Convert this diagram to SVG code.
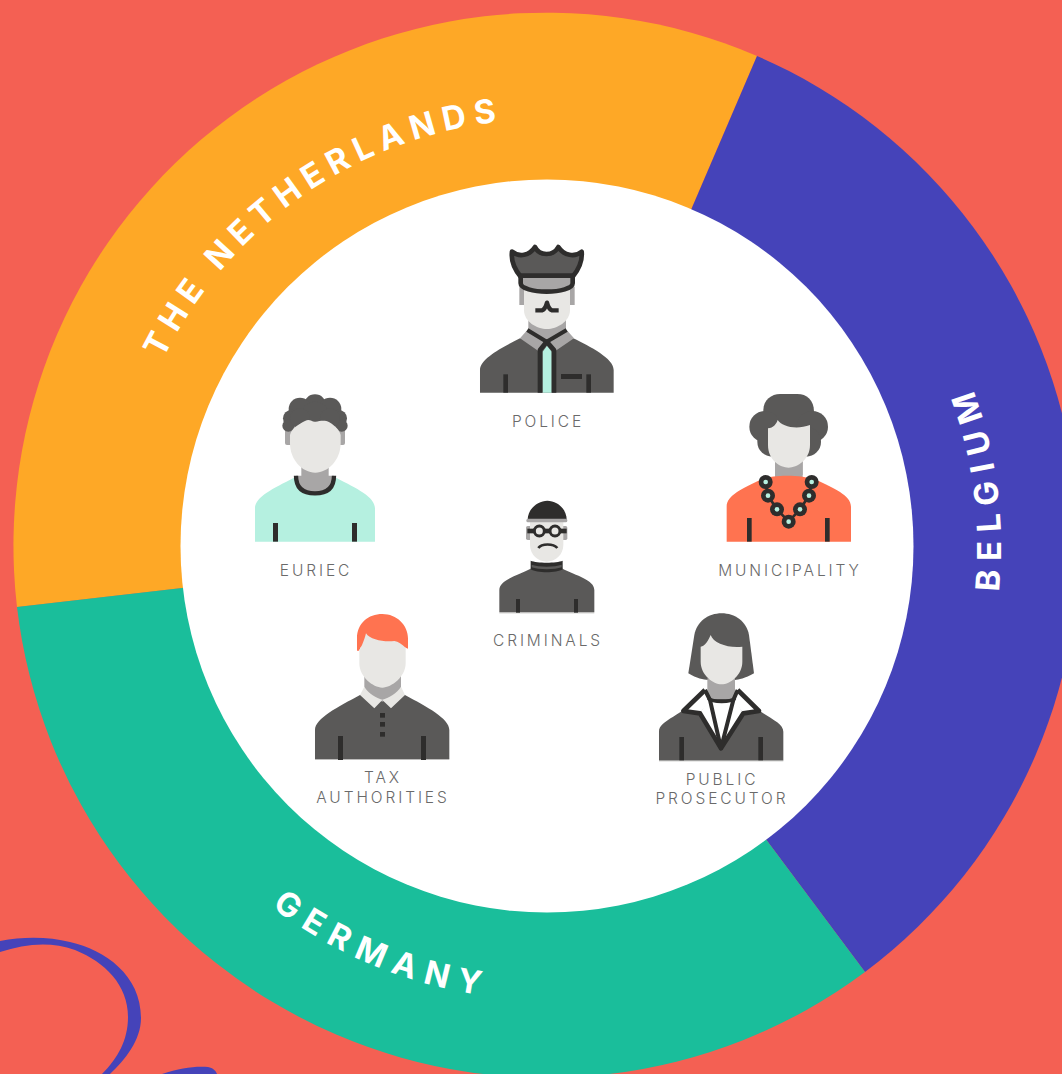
<svg xmlns="http://www.w3.org/2000/svg" width="1062" height="1074" viewBox="0 0 1062 1074">
<style>
.dk{fill:#5a5958}.gy{fill:#a8a6a6}.fc{fill:#e8e7e4}.ln{fill:#2e2d2c}.st{fill:none;stroke:#2e2d2c;stroke-linejoin:round}
.lb{font-family:Inter,"Liberation Sans",sans-serif;font-weight:300;font-size:15.5px;letter-spacing:2.9px;fill:#6a6a6a;text-anchor:middle}
.rg{font-family:Inter,"Liberation Sans",sans-serif;font-weight:700;font-size:33px;fill:#fff;text-anchor:middle}
.sep{fill:#bdbcbb}
</style>
<defs>
<path id="pN" d="M120 546A427 427 0 0 1 974 546"/>
<path id="pG" d="M93 546A454 454 0 0 0 1001 546"/>
<path id="pB" d="M547 1000A454 454 0 0 0 547 92"/>
</defs>
<rect width="1062" height="1074" fill="#f46053"/>
<g id="decor" fill="#4543b9">
<path d="M0 941C25 936 50 937 70 942C105 950 141 975 141 1018C141 1040 125 1060 110 1074L102 1074C118 1058 128 1040 128 1017C128 985 105 962 75 950C50 941 25 944 0 952Z"/>
<path d="M162 1074C180 1068 195 1066 208 1067C213 1068 216 1071 217 1074Z"/>
</g>
<g id="ring">
<path id="seg-netherlands" fill="#fea826" d="M757 56A533 533 0 0 0 17 607L547 546Z"/>
<path id="seg-belgium" fill="#4543b9" d="M757 56A533 533 0 0 1 865 972L547 546Z"/>
<path id="seg-germany" fill="#1abe9b" d="M865 972A533 533 0 0 1 17 607L547 546Z"/>
<circle cx="547" cy="546" r="366.5" fill="#fff"/>
<text class="rg" letter-spacing="7.5"><textPath href="#pN" startOffset="30.6%">THE NETHERLANDS</textPath></text>
<text class="rg" letter-spacing="9.5"><textPath href="#pG" startOffset="37.6%">GERMANY</textPath></text>
<text class="rg" letter-spacing="9.5"><textPath href="#pB" startOffset="54.3%">BELGIUM</textPath></text>
</g>

<g id="police">
<g transform="translate(470 235) scale(.33333)">
<rect class="gy" x="148" y="155" width="14" height="55"/><rect class="gy" x="300" y="155" width="14" height="55"/>
<path class="dk" d="M30 473V405C30 370 100 335 150 310H310C360 335 431 370 431 405V473Z"/>
<path class="gy" d="M175 240H288V285L231 320L175 285Z"/>
<path class="fc" d="M162 165H300V225C300 260 260 282 231 282C200 282 162 260 162 225Z"/>
<path class="gy" d="M172 285L150 310L205 348L230 320L256 348L312 310L290 285L230 318Z"/>
<path d="M218 473V350L231 332L245 350V473Z" fill="#b5f0e0"/>
<path class="st" stroke-width="14" d="M210 473V345L230 320L252 345V473"/>
<path class="st" stroke-width="12" d="M172 285L230 320L290 285"/>
<path class="st" stroke-width="13" d="M196 226H216C224 224 228 214 231 203C234 214 238 224 246 226H266"/>
<path class="st" style="fill:#5a5958" stroke-width="14" d="M126 50C148 68 178 62 195 36C208 64 250 64 265 36C282 62 314 68 335 50C338 80 322 108 308 125H152C138 108 122 80 126 50Z"/>
<path class="st" style="fill:#a8a6a6" stroke-width="14" d="M152 122H308V145C308 160 270 170 230 170C190 170 152 160 152 145Z"/>
<rect class="ln" x="100" y="418" width="14" height="55"/><rect class="ln" x="349" y="418" width="14" height="55"/><rect class="ln" x="273" y="417" width="63" height="15"/>
</g>
<text class="lb" x="548" y="427">POLICE</text>
</g>

<g id="municipality">
<g transform="translate(710 385) scale(.33333)">
<g class="dk">
<path d="M160 75C160 45 185 27 210 27H262C290 27 312 45 312 80V130H160Z"/>
<circle cx="165" cy="125" r="47"/><circle cx="307" cy="125" r="47"/><circle cx="187" cy="170" r="45"/><circle cx="288" cy="170" r="45"/>
</g>
<rect class="gy" x="195" y="225" width="83" height="70"/>
<path d="M50 470V365C50 330 100 310 150 285C190 268 270 268 320 285C370 310 423 330 423 365V470Z" fill="#ff7350"/>
<rect class="gy" x="195" y="225" width="83" height="45"/>
<path class="fc" d="M174 130C190 130 200 115 203 105C215 125 260 135 300 120V180C300 225 260 248 236 248C210 248 174 225 174 180Z"/>
<path class="st" stroke-width="8" d="M167 291L174 332L201 373L236 410L270 373L297 332L305 291"/>
<g class="ln"><circle cx="167" cy="291" r="21"/><circle cx="174" cy="332" r="21"/><circle cx="201" cy="373" r="21"/><circle cx="236" cy="410" r="21"/><circle cx="270" cy="373" r="21"/><circle cx="297" cy="332" r="21"/><circle cx="305" cy="291" r="21"/></g>
<g fill="#b5f0e0"><circle cx="167" cy="291" r="7"/><circle cx="174" cy="332" r="7"/><circle cx="201" cy="373" r="7"/><circle cx="236" cy="410" r="7"/><circle cx="270" cy="373" r="7"/><circle cx="297" cy="332" r="7"/><circle cx="305" cy="291" r="7"/></g>
<rect class="ln" x="111" y="399" width="14" height="71"/><rect class="ln" x="345" y="399" width="14" height="71"/>
</g>
<text class="lb" x="790" y="576">MUNICIPALITY</text>
</g>

<g id="euriec">
<g transform="translate(240 385) scale(.33333)">
<rect class="gy" x="135" y="125" width="180" height="55" rx="6"/>
<path d="M45 470V370C45 335 100 310 162 278H288C350 310 405 335 405 370V470Z" fill="#b5f0e0"/>
<path class="gy" d="M184 235H266V272H282C282 310 260 325 225 325C190 325 168 310 168 272H184Z"/>
<path class="st" stroke-width="13" d="M168 272C168 310 190 325 225 325C260 325 282 310 282 272"/>
<g class="dk"><circle cx="225" cy="62" r="34"/><circle cx="180" cy="72" r="34"/><circle cx="270" cy="72" r="34"/><circle cx="155" cy="100" r="26"/><circle cx="295" cy="100" r="26"/><circle cx="145" cy="122" r="18"/><circle cx="305" cy="122" r="18"/><circle cx="225" cy="90" r="40"/><circle cx="180" cy="100" r="30"/><circle cx="270" cy="100" r="30"/></g>
<path class="fc" d="M150 150C155 130 175 118 195 108C210 100 215 112 227 110C240 108 255 104 268 112C285 122 298 135 302 150V175C302 225 265 263 226 263C187 263 150 225 150 175Z"/>
<rect class="ln" x="99" y="414" width="15" height="56"/><rect class="ln" x="336" y="414" width="15" height="56"/>
</g>
<text class="lb" x="316" y="576">EURIEC</text>
</g>

<g id="criminals">
<g transform="translate(480 490) scale(.33333)">
<rect class="sep" x="58" y="366" width="285" height="4"/>
<path class="dk" d="M58 366V300C58 270 110 258 155 235H245C290 258 343 270 343 300V366Z"/>
<rect class="gy" x="138" y="108" width="124" height="42" rx="5"/>
<path class="fc" d="M150 95H250V165C250 195 225 215 200 215C175 215 150 195 150 165Z"/>
<path class="ln" d="M152 212C170 220 230 220 248 212V238C230 250 170 250 152 238Z"/>
<path class="dk" d="M155 224C175 232 225 232 245 224V232C225 240 175 240 155 232Z"/>
<path class="ln" d="M143 90C143 55 175 32 202 32C230 32 260 55 260 90Z"/>
<rect class="gy" x="139" y="86" width="123" height="11" rx="5"/>
<rect class="ln" x="142" y="116" width="118" height="14"/>
<circle cx="178" cy="123" r="15" fill="#e8e7e4" stroke="#2e2d2c" stroke-width="9"/>
<circle cx="225" cy="123" r="15" fill="#e8e7e4" stroke="#2e2d2c" stroke-width="9"/>
<path class="st" stroke-width="8" d="M175 174C185 160 220 160 232 174"/>
<rect class="ln" x="108" y="327" width="12" height="41"/><rect class="ln" x="282" y="327" width="12" height="41"/>
</g>
<text class="lb" x="548" y="646">CRIMINALS</text>
</g>

<g id="tax-authorities">
<g transform="translate(305 605) scale(.33333)">
<rect class="sep" x="30" y="461" width="403" height="4"/>
<path class="dk" d="M30 462V375C30 340 100 305 165 270H300C365 305 433 340 433 375V462Z"/>
<path class="gy" d="M178 200H288V265L232 290L178 265Z"/>
<path class="fc" d="M178 245C190 265 215 280 232 284C250 280 275 265 288 245L300 270L258 310L232 285L208 310L165 270Z"/>
<path d="M156 137V100C156 55 190 27 232 27C275 27 309 60 309 100V131L295 125H168L162 137Z" fill="#ff7350"/>
<path class="fc" d="M163 135C170 125 178 105 183 85C195 105 240 112 268 108C280 110 290 118 302 128V175C302 215 260 248 232 248C204 248 163 215 163 175Z"/>
<rect class="ln" x="225" y="324" width="15" height="14"/><rect class="ln" x="225" y="351" width="15" height="14"/><rect class="ln" x="225" y="381" width="15" height="14"/>
<rect class="ln" x="99" y="393" width="15" height="72"/><rect class="ln" x="348" y="393" width="15" height="72"/>
</g>
<text class="lb" x="383" y="783">TAX</text><text class="lb" x="383" y="803">AUTHORITIES</text>
</g>

<g id="public-prosecutor">
<g transform="translate(645 605) scale(.33333)">
<rect class="sep" x="42" y="465" width="373" height="4"/>
<path class="dk" d="M130 205L148 90C155 50 190 25 230 25C270 25 305 50 312 90L327 205C300 220 280 225 270 225H190C175 225 155 220 130 205Z"/>
<path class="dk" d="M42 466V380C42 345 110 335 180 262H278C345 335 415 345 415 380V466Z"/>
<rect class="gy" x="187" y="220" width="83" height="62"/>
<path d="M190 285C205 295 255 295 270 285L295 325L228 430L165 325Z" fill="#fff"/>
<path class="fc" d="M167 125C180 125 190 105 197 90C205 115 250 130 292 125V170C292 210 255 238 230 238C205 238 167 210 167 170Z"/>
<path d="M180 255L115 318L165 325L195 285ZM278 255L342 318L295 325L265 285Z" fill="#fff"/>
<path class="st" stroke-width="14" d="M180 255L115 318L165 325L228 430L295 325L342 318L278 255"/>
<path class="st" stroke-width="12" d="M180 255L195 285L228 430L265 285L278 255"/>
<path class="st" stroke-width="11" d="M190 280C205 292 255 292 270 280"/>
<rect class="ln" x="103" y="396" width="14" height="70"/><rect class="ln" x="340" y="396" width="14" height="70"/>
</g>
<text class="lb" x="722" y="785">PUBLIC</text><text class="lb" x="722" y="804">PROSECUTOR</text>
</g>
</svg>
